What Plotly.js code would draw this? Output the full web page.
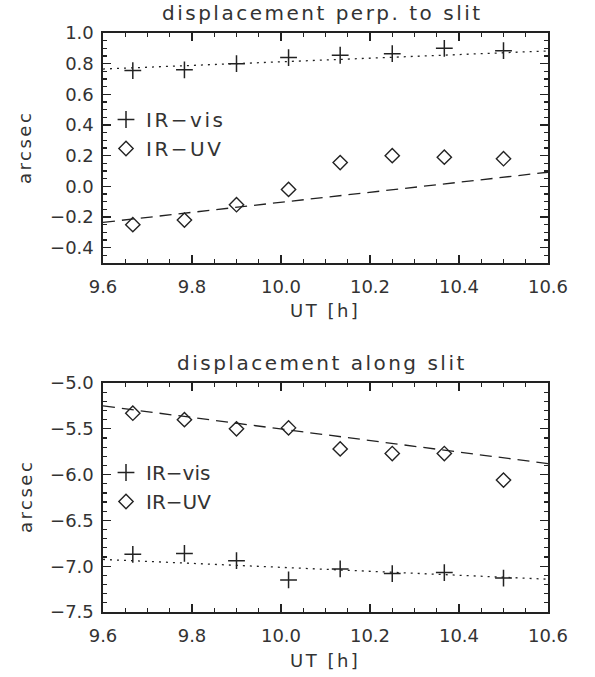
<!DOCTYPE html>
<html>
<head>
<meta charset="utf-8">
<script src="https://cdn.plot.ly/plotly-3.0.1.min.js"></script>
<style>
html,body{margin:0;padding:0;background:#fff;}
#chart{width:595px;height:677px;}
.annotation-text{letter-spacing:2.5px;}
.legendtext{letter-spacing:2.5px;}
</style>
</head>
<body>
<div id="chart"></div>
<script>
// Time stamps (UT hours)
const utHours = [9.667, 9.783, 9.900, 10.017, 10.133, 10.250, 10.367, 10.500];

// Top panel: displacement perpendicular to slit (arcsec)
const perpIRvis = [0.755, 0.76, 0.80, 0.84, 0.855, 0.865, 0.90, 0.885];
const perpIRuv  = [-0.25, -0.22, -0.12, -0.02, 0.155, 0.20, 0.19, 0.18];

// Bottom panel: displacement along slit (arcsec)
const alongIRvis = [-6.87, -6.86, -6.94, -7.15, -7.03, -7.08, -7.07, -7.13];
const alongIRuv  = [-5.33, -5.40, -5.50, -5.49, -5.72, -5.77, -5.77, -6.06];

// Linear fit lines (end points)
const fitX = [9.6, 10.6];
const perpFitVis = [0.765, 0.883];
const perpFitUV = [-0.235, 0.092];
const alongFitVis = [-6.926, -7.142];
const alongFitUV = [-5.25, -5.88];

const seriesNames = ['IR\u2212vis', 'IR\u2212UV'];
const panelTitles = ['displacement perp. to slit', 'displacement along slit'];
const xTitle = 'UT [h]';
const yTitle = 'arcsec';

const ink = '#222';
const txt = '#333';
const FONT = 'DejaVu Sans';

const crossMarker = {symbol: 'cross-thin-open', size: 12, color: ink, line: {width: 1.5, color: ink}};
const diamondMarker = {symbol: 'diamond-open', size: 11, color: ink, line: {width: 1.4, color: ink}};

const traces = [
  {x: fitX, y: perpFitVis, mode: 'lines', line: {color: ink, width: 1.3, dash: '2px,5px'}, showlegend: false, xaxis: 'x', yaxis: 'y', hoverinfo: 'skip'},
  {x: fitX, y: perpFitUV, mode: 'lines', line: {color: ink, width: 1.3, dash: '12px,7px'}, showlegend: false, xaxis: 'x', yaxis: 'y', hoverinfo: 'skip'},
  {x: utHours, y: perpIRvis, mode: 'markers', name: seriesNames[0], marker: crossMarker, xaxis: 'x', yaxis: 'y', legend: 'legend'},
  {x: utHours, y: perpIRuv, mode: 'markers', name: seriesNames[1], marker: diamondMarker, xaxis: 'x', yaxis: 'y', legend: 'legend'},
  {x: fitX, y: alongFitVis, mode: 'lines', line: {color: ink, width: 1.3, dash: '2px,5px'}, showlegend: false, xaxis: 'x2', yaxis: 'y2', hoverinfo: 'skip'},
  {x: fitX, y: alongFitUV, mode: 'lines', line: {color: ink, width: 1.3, dash: '12px,7px'}, showlegend: false, xaxis: 'x2', yaxis: 'y2', hoverinfo: 'skip'},
  {x: utHours, y: alongIRvis, mode: 'markers', name: seriesNames[0], marker: crossMarker, xaxis: 'x2', yaxis: 'y2', legend: 'legend2'},
  {x: utHours, y: alongIRuv, mode: 'markers', name: seriesNames[1], marker: diamondMarker, xaxis: 'x2', yaxis: 'y2', legend: 'legend2'}
];

const H = 677, W = 595;
const px = v => v / W;
const py = v => 1 - v / H;

function xAxis(anchor) {
  return {
    domain: [px(103), px(548)], anchor: anchor, range: [9.6, 10.6],
    tick0: 9.6, dtick: 0.2, tickformat: '.1f',
    ticks: 'inside', ticklen: 8, tickwidth: 1.2, tickcolor: ink,
    minor: {dtick: 0.05, ticks: 'inside', ticklen: 4, tickwidth: 1.2, tickcolor: ink},
    showline: true, linecolor: ink, linewidth: 1.6, mirror: 'ticks',
    showgrid: false, zeroline: false,
    tickfont: {family: FONT, size: 18, color: txt},
    ticklabelstandoff: 7
  };
}
function yAxis(anchor, dom, rng, dt, mdt) {
  return {
    domain: dom, anchor: anchor, range: rng,
    dtick: dt, tickformat: '.1f',
    ticks: 'inside', ticklen: 8, tickwidth: 1.2, tickcolor: ink,
    minor: {dtick: mdt, ticks: 'inside', ticklen: 4, tickwidth: 1.2, tickcolor: ink},
    showline: true, linecolor: ink, linewidth: 1.6, mirror: 'ticks',
    showgrid: false, zeroline: false,
    tickfont: {family: FONT, size: 18, color: txt},
    ticklabelstandoff: 4
  };
}

const titleFont = {family: FONT, size: 20, color: txt};
const labelFont = {family: FONT, size: 18, color: txt};

const layout = {
  width: W, height: H,
  margin: {l: 0, r: 0, t: 0, b: 0},
  paper_bgcolor: '#fff', plot_bgcolor: '#fff',
  font: {family: FONT, color: txt},
  xaxis: xAxis('y'),
  yaxis: yAxis('x', [py(263), py(33)], [-0.5, 1.0], 0.2, 0.05),
  xaxis2: xAxis('y2'),
  yaxis2: yAxis('x2', [py(612), py(383)], [-7.5, -5.0], 0.5, 0.1),
  legend: {x: px(106), y: py(134), xanchor: 'left', yanchor: 'middle', bgcolor: 'rgba(0,0,0,0)', borderwidth: 0,
           font: {family: FONT, size: 20, color: txt}, tracegroupgap: 0},
  legend2: {x: px(106), y: py(487), xanchor: 'left', yanchor: 'middle', bgcolor: 'rgba(0,0,0,0)', borderwidth: 0,
           font: {family: FONT, size: 20, color: txt}, tracegroupgap: 0},
  annotations: [
    {text: panelTitles[0], x: px(322), y: py(13), xref: 'paper', yref: 'paper', xanchor: 'center', yanchor: 'middle', showarrow: false, font: titleFont},
    {text: panelTitles[1], x: px(322), y: py(363), xref: 'paper', yref: 'paper', xanchor: 'center', yanchor: 'middle', showarrow: false, font: titleFont},
    {text: xTitle, x: px(325), y: py(311), xref: 'paper', yref: 'paper', xanchor: 'center', yanchor: 'middle', showarrow: false, font: labelFont},
    {text: xTitle, x: px(325), y: py(660), xref: 'paper', yref: 'paper', xanchor: 'center', yanchor: 'middle', showarrow: false, font: labelFont},
    {text: yTitle, x: px(25), y: py(148), xref: 'paper', yref: 'paper', xanchor: 'center', yanchor: 'middle', textangle: -90, showarrow: false, font: labelFont},
    {text: yTitle, x: px(25), y: py(497), xref: 'paper', yref: 'paper', xanchor: 'center', yanchor: 'middle', textangle: -90, showarrow: false, font: labelFont}
  ]
};

Plotly.newPlot('chart', traces, layout, {displayModeBar: false, staticPlot: true});
</script>
</body>
</html>
